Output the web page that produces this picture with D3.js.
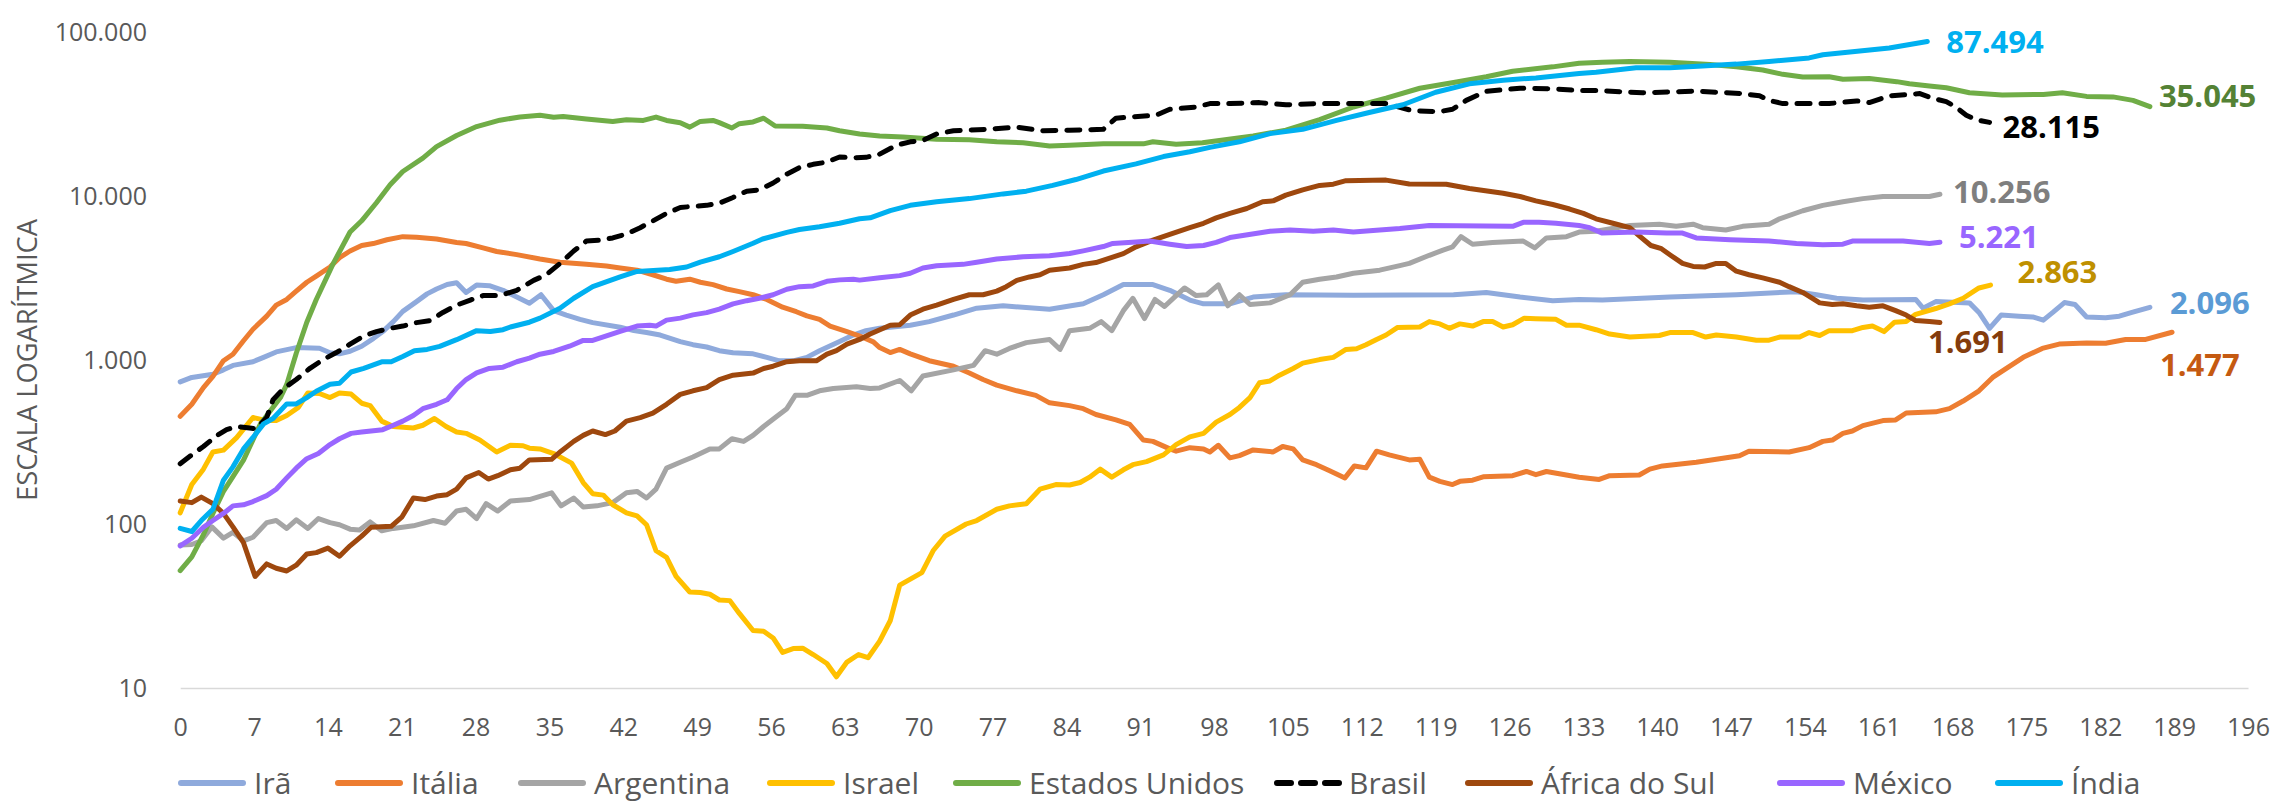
<!DOCTYPE html>
<html><head><meta charset="utf-8">
<script src="https://cdn.jsdelivr.net/npm/d3@7"></script>
<style>
html,body{margin:0;padding:0;background:#fff;}
svg{display:block;}
</style></head>
<body>
<svg id="chart" width="2279" height="803"></svg>
<script>
// ---------- DATA (day, value) ----------
const xTicks = d3.range(0, 197, 7);
const yTicks = [10, 100, 1000, 10000, 100000];
const seriesNames = ["Irã","Itália","Argentina","Israel","Estados Unidos","Brasil","África do Sul","México","Índia"];

const ira = [[0,735],[1.1,783],[3.1,818],[4.1,871],[5,927],[6.9,976],[7.9,1038],[9.1,1120],[11,1190],[13.2,1180],[14.2,1107],[15.1,1090],[16.1,1130],[17.2,1213],[18.3,1350],[19.3,1510],[20.2,1715],[21.1,1980],[22.4,2270],[23.4,2530],[24.3,2710],[25.3,2885],[26.2,2960],[27.1,2580],[28.1,2870],[29.3,2840],[30.6,2660],[31.9,2420],[33.1,2220],[34.2,2500],[35.4,2000],[36.6,1880],[37.9,1770],[39.1,1690],[41.7,1585],[43,1510],[44.2,1470],[45.5,1420],[47.4,1295],[48.6,1240],[49.9,1200],[51.1,1140],[52.4,1107],[54.3,1090],[55.6,1038],[56.8,988],[58.1,988],[59.4,1038],[60.6,1140],[62.5,1295],[63.8,1420],[65,1510],[66.3,1560],[69.2,1630],[71,1715],[73.3,1880],[75.5,2070],[78,2140],[82.4,2040],[85.6,2200],[87.5,2500],[89.4,2885],[92.2,2885],[93.8,2660],[95.7,2320],[97,2200],[99.5,2200],[101.7,2420],[104.8,2500],[111.2,2480],[120.7,2500],[123.8,2580],[127,2420],[130.1,2300],[132.6,2340],[134.8,2320],[141.2,2420],[147.5,2500],[153.2,2610],[155.1,2500],[157,2380],[159.5,2320],[164.5,2340],[165.2,2070],[166.4,2270],[169.6,2230],[170.5,1950],[171.5,1560],[172.6,1880],[174.3,1850],[175.6,1830],[176.6,1750],[177.5,1950],[178.6,2240],[179.6,2180],[180.7,1830],[182.5,1810],[183.8,1850],[185,1950],[186.7,2096]];

const italia = [[0,454],[1.1,537],[2.2,678],[3.1,794],[4.1,990],[5,1085],[6,1310],[6.9,1540],[8.2,1850],[9.1,2160],[10.1,2340],[11,2630],[12,2980],[12.9,3250],[14.2,3690],[15.1,4210],[16.1,4620],[17.2,4990],[18.3,5130],[19.6,5410],[21.1,5650],[22.4,5600],[24.3,5470],[26.2,5210],[27.1,5130],[28.7,4830],[30,4590],[31.9,4390],[34.1,4130],[36,3950],[38.5,3830],[40.4,3740],[41.7,3640],[43.3,3530],[44.8,3310],[46.1,3110],[47,3020],[48.3,3110],[49.3,2980],[50.5,2880],[51.8,2710],[53,2610],[54.3,2500],[55.6,2340],[57.1,2100],[58.4,1970],[59.4,1860],[60.6,1770],[61.6,1610],[63.2,1490],[64.4,1400],[65.7,1290],[66.3,1190],[67.3,1110],[68.2,1160],[69.2,1090],[71,990],[73.3,916],[74.8,834],[76.1,760],[77.4,703],[79.3,649],[81.1,609],[82.4,548],[84.3,527],[85.6,505],[86.8,465],[88.7,431],[90,405],[91.3,325],[92.2,319],[93.8,287],[94.4,278],[95.7,292],[97,287],[97.6,275],[98.4,302],[99.5,253],[100.4,261],[101.7,283],[103.6,275],[104.5,297],[105.5,287],[106.4,246],[107.7,230],[108.9,212],[110.4,191],[111.3,226],[112.4,220],[113.4,278],[114.6,264],[116.5,246],[117.5,248],[118.4,193],[119.4,182],[120.6,174],[121.3,182],[122.5,185],[123.5,194],[126.3,197],[127.6,209],[128.5,200],[129.5,209],[132.6,193],[134.5,187],[135.5,197],[138.3,199],[139.3,216],[140.5,226],[143.7,238],[145.6,248],[147.8,261],[148.7,278],[152.5,275],[154.4,292],[155.7,319],[156.6,325],[157.6,357],[158.5,369],[159.5,398],[161.4,427],[162.6,431],[163.6,475],[166.4,483],[167.7,505],[169,562],[170.5,649],[171.8,783],[173.1,888],[174.7,1038],[176.5,1176],[178.1,1250],[180.7,1270],[182.5,1265],[184.4,1335],[186.3,1335],[188.8,1477]];

const argentina = [[0,74.5],[1.1,75],[2,79],[3,96],[4.1,82],[5,89],[6,79],[6.9,83],[8.2,102],[9.1,105],[10.1,94],[11,106],[12.1,94],[13.1,108],[14.2,102],[15.1,99],[16.1,93],[17,92],[18,103],[19.1,91],[20.2,94],[22.1,97.5],[24,105],[25.1,101],[26.2,120],[27.1,123],[28.1,108],[29,133],[30.1,120],[31.3,138],[33.1,141],[35.2,155],[36.1,129],[37.3,144],[38.2,127],[39.5,129],[41,135],[42.3,155],[43.3,158],[44.2,144],[45.1,163],[46.1,219],[47.4,238],[48.6,256],[50.2,287],[51.1,287],[52.3,331],[53.4,319],[54.3,347],[55.3,393],[56.5,451],[57.5,505],[58.3,609],[59.4,609],[60.6,649],[61.9,670],[64.1,686],[65.4,670],[66.3,676],[68.2,750],[69.3,649],[70.4,798],[73.3,871],[75.2,927],[76.3,1140],[77.4,1085],[78.6,1176],[80.2,1276],[82.4,1333],[83.4,1160],[84.3,1510],[86.2,1560],[87.3,1715],[88.3,1510],[89.4,2000],[90.3,2376],[91.4,1790],[92.4,2340],[93.3,2120],[94.4,2470],[95.2,2750],[96.3,2470],[97.3,2500],[98.4,2870],[99.3,2140],[100.4,2500],[101.4,2180],[103.3,2230],[105.2,2500],[106.4,2980],[108,3110],[109.6,3210],[111.2,3380],[113.7,3530],[115.6,3760],[116.5,3880],[118.4,4350],[119.7,4680],[120.6,4900],[121.4,5650],[122.5,5080],[124.4,5210],[127.3,5310],[128.4,4830],[129.5,5550],[131.4,5650],[132.6,6030],[134.2,6090],[137.4,6610],[140.2,6730],[141.8,6530],[143.4,6730],[144.3,6410],[146.5,6210],[148.1,6530],[150.6,6730],[151.6,7260],[153.8,8130],[155.7,8770],[157.6,9230],[159.5,9640],[161.4,9940],[163.3,9940],[165.8,9940],[166.8,10256]];

const israel = [[0,117],[1.1,174],[2.2,216],[3.1,275],[4.1,282],[5.35,336],[6.9,446],[8.2,427],[9.1,427],[10.1,459],[11.2,514],[12.1,630],[13.2,625],[14.2,590],[15.1,630],[16.2,620],[17.2,545],[18,527],[19.1,424],[20.2,393],[22.1,385],[23,400],[24.1,440],[25.2,393],[26.2,364],[27.1,357],[28.4,325],[30,275],[31.3,302],[32.5,300],[33.1,290],[34.1,287],[35.4,269],[37.1,235],[38.2,179],[39.1,153],[40.1,150],[41,131],[42.3,117],[43.3,112],[44.2,99],[45.1,68.7],[46.1,62.5],[47,47.9],[48.3,38.5],[49.3,38.2],[50.2,37.3],[51.1,34.4],[52.1,34.1],[53,28.5],[54.3,22.4],[55.3,22.2],[56.2,20.2],[57.1,16.5],[58.1,17.4],[59,17.5],[60,16],[61.3,14.1],[62.2,11.7],[63.2,14.4],[64.3,16],[65.2,15.3],[66.3,19.3],[67.3,25.7],[68.2,42.4],[70.3,50.5],[71.4,69.2],[72.5,84.4],[74.5,100],[75.5,105],[77.4,123],[78.6,129],[80.2,133],[81.5,163],[83,174],[84.3,173],[85.3,179],[86.2,193],[87.2,216],[88.3,193],[89.4,214],[90.3,230],[91.6,240],[93.2,264],[94.4,305],[95.7,340],[97,357],[98.2,418],[99.5,465],[100.4,514],[101.4,590],[102.3,726],[103.3,745],[104.2,808],[105.5,888],[106.4,957],[108,1006],[109.3,1038],[110.5,1160],[111.5,1170],[112.4,1240],[113.4,1335],[114.3,1420],[115.4,1580],[117.5,1590],[118.4,1715],[119.4,1660],[120.3,1560],[121.3,1660],[122.5,1610],[123.5,1715],[124.4,1715],[125.4,1590],[126.3,1640],[127.4,1800],[128.5,1785],[130.4,1770],[131.4,1630],[132.6,1630],[134.2,1530],[135.5,1440],[137.4,1380],[140.2,1410],[141.2,1470],[143.4,1470],[144.6,1380],[145.6,1420],[147.5,1380],[149.4,1320],[150.6,1320],[151.6,1380],[153.5,1380],[154.4,1470],[155.4,1410],[156.3,1510],[158.5,1510],[159.5,1580],[160.4,1610],[161.5,1490],[162.5,1700],[163.6,1715],[164.5,1900],[166.4,2060],[167.7,2200],[169,2380],[170.5,2750],[171.6,2863]];

const estadosUnidos = [[0,52],[1.1,63],[2.2,86],[3.1,116],[4.1,158],[6,245],[7.6,407],[9.5,590],[10.1,710],[11,1100],[12,1700],[12.9,2340],[14.5,3870],[16.1,6030],[17.2,7060],[18.6,9100],[19.9,11700],[21.1,14100],[23,17000],[24.3,20000],[26.2,23400],[28.1,26500],[30.3,29000],[32.2,30300],[34.1,31100],[35.4,30200],[36.3,30500],[38.5,29500],[41,28500],[42.3,29200],[43.9,28900],[45.1,30300],[46.1,28900],[47.4,28000],[48.3,26300],[49.3,28500],[50.5,28900],[51.1,28000],[52.3,26000],[53,27600],[54.3,28300],[55.3,29800],[56.4,26700],[59,26600],[61.3,26000],[62.5,25000],[64.4,23900],[66.3,23200],[68.5,22900],[71.7,22200],[74.8,22000],[77.4,21400],[79.9,21100],[82.4,20200],[84.3,20400],[87.5,20800],[91.3,20800],[92.2,21400],[94.4,20700],[96.9,21100],[98.5,21800],[101.7,23200],[104.8,25200],[108,29200],[111.2,34900],[114.3,39500],[117.5,45400],[120.7,49200],[123.8,53400],[126.3,57600],[130.1,61300],[132.6,64500],[134.8,65300],[137.4,66100],[141.2,65300],[145,63300],[147.5,61300],[150,58700],[151.9,55200],[153.8,53100],[156.3,53400],[157.6,51500],[160.1,52100],[162.7,49800],[163.9,48300],[165.8,46800],[167.4,45700],[169.6,42600],[172.7,41300],[176.6,41600],[178.4,42600],[180.7,40500],[183.2,40200],[185.1,38300],[186.7,35045]];

const brasil = [[0,233],[1.1,264],[2.2,297],[3.5,347],[4.4,376],[5.35,393],[6.6,385],[7.2,380],[8.2,446],[8.8,573],[9.8,670],[11,760],[12.3,890],[13.6,1010],[14.8,1110],[16.1,1250],[17.4,1400],[18.6,1490],[19.9,1560],[21.1,1610],[22.4,1690],[23.7,1740],[24.9,1950],[26.2,2160],[27.5,2320],[28.7,2470],[30.3,2470],[31.9,2660],[33.5,3060],[34.7,3310],[36,3880],[37.3,4620],[38.5,5310],[39.8,5380],[41,5550],[42.3,5870],[43.6,6410],[44.8,7040],[46.1,7830],[47.4,8500],[48.6,8650],[49.9,8770],[51.1,9040],[52.4,9800],[53.7,10700],[54.9,10900],[56.2,12000],[57.5,13600],[58.7,14900],[60,15600],[61.3,16100],[62.5,17300],[63.8,17100],[65,17200],[66.3,18000],[67.9,20400],[69.2,21400],[70.4,21800],[71.7,23900],[73.3,25000],[76.4,25500],[79.3,26300],[81.8,25000],[84.3,25200],[87.5,25500],[88.7,29800],[90,30300],[92.5,31100],[93.8,33800],[96.3,34900],[97.6,36600],[99.5,36600],[102.3,37100],[104.8,36000],[108,36600],[114.3,36600],[116.8,33100],[119.4,32700],[120.6,33800],[121.9,38300],[123.8,43500],[127,45400],[130.1,45000],[132.6,44000],[134.2,44000],[138.6,42600],[143.7,43600],[148.1,42100],[149.7,40800],[150.6,38300],[151.9,36600],[156.3,36600],[158.9,38000],[160.1,37100],[161.1,39000],[162,40800],[164.9,42100],[166.1,39500],[167.4,37600],[168.3,34900],[169.3,31100],[170.2,29200],[171.5,28115]];

const africaDoSul = [[0,138],[1.1,135],[2,146],[3.1,133],[4.1,116],[5,96],[6,76.9],[7.1,47.9],[8.2,57.1],[9.1,53.7],[10.1,51.7],[11,56.1],[12,65.7],[12.9,66.9],[14,71.3],[15.1,63.6],[16.1,73.6],[17.2,84.4],[18.1,95.6],[20,96.8],[21,110],[22.1,144],[23.2,141],[24.3,148],[25.3,151],[26.2,163],[27.1,191],[28.3,206],[29.2,188],[30.1,197],[31.3,214],[32.2,219],[33.1,246],[35.2,248],[36.1,278],[37.3,319],[38.2,347],[39.1,369],[40.3,351],[41.2,369],[42.3,424],[43.6,445],[44.8,474],[46.1,537],[47.4,617],[48.6,649],[49.9,678],[51.1,760],[52.4,808],[54.3,832],[55.3,888],[56.2,916],[57.5,976],[58.7,988],[60.3,988],[61.3,1085],[62.2,1140],[63.2,1250],[64.4,1335],[65.4,1440],[67.3,1630],[68.2,1640],[69.2,1880],[70.4,2040],[71.7,2160],[73.3,2340],[74.8,2500],[76.1,2500],[77.4,2630],[78.3,2800],[79.3,3060],[80.5,3210],[81.5,3310],[82.4,3530],[84.3,3640],[85.6,3830],[86.8,3930],[88.1,4180],[89.4,4450],[90.6,4900],[92.2,5380],[93.8,5830],[95.7,6410],[97,6820],[98.2,7350],[99.5,7830],[101.1,8390],[102.6,9230],[103.6,9340],[104.8,10120],[106.4,10900],[108,11600],[109.3,11800],[110.5,12400],[114.3,12500],[116.5,11850],[120,11800],[122.2,11100],[125.4,10400],[127,9930],[128.5,9340],[130.1,8870],[131.7,8330],[133,7830],[134.2,7260],[135.8,6820],[137.4,6410],[138.3,5720],[139.4,4990],[140.4,4770],[141.3,4340],[142.4,3880],[143.4,3720],[144.5,3690],[145.6,3880],[146.5,3880],[147.5,3480],[148.7,3310],[150,3170],[151.6,2980],[152.5,2800],[153.8,2580],[155.4,2230],[156.6,2180],[157.6,2200],[158.9,2140],[160.1,2100],[161.4,2140],[162.6,2000],[163.6,1880],[164.5,1740],[165.8,1715],[166.8,1691]];

const mexico = [[0,73.6],[1.1,81.9],[2.2,95.6],[3.1,105],[4.1,116],[5,129],[6,131],[6.9,137],[8.2,149],[9.1,163],[10.1,191],[11,219],[12,250],[13.1,269],[14.2,305],[15.1,331],[16.2,357],[17.2,364],[19.2,376],[20.2,400],[21.1,424],[22.1,459],[23,505],[24.3,537],[25.3,572],[26.2,670],[27.1,760],[28.1,834],[29.3,888],[30.6,904],[31.9,976],[33.1,1026],[34.1,1085],[35.4,1127],[36.9,1214],[38.2,1317],[39.1,1317],[40.4,1403],[41.7,1493],[43.3,1610],[44.5,1630],[45.1,1610],[46.1,1750],[47.4,1800],[48.6,1885],[49.9,1945],[51.1,2045],[52.4,2200],[53.7,2300],[54.9,2380],[56.2,2500],[57.5,2700],[58.7,2800],[60,2830],[61.3,3020],[62.5,3080],[63.8,3110],[64.4,3070],[66.3,3170],[68.2,3270],[69.2,3380],[70.4,3640],[71.7,3760],[74.2,3830],[75.5,3950],[77.4,4130],[79.9,4260],[82.4,4320],[84.3,4460],[85.6,4630],[87.5,4920],[88.4,5140],[90.6,5240],[91.9,5310],[93.8,5080],[95.4,4920],[97,4990],[98.2,5210],[99.5,5580],[103.3,6100],[105.2,6210],[107.4,6100],[109.3,6210],[111.2,6030],[113.7,6210],[115.6,6330],[118.4,6610],[126.3,6530],[127.3,6910],[128.8,6910],[130.4,6820],[132.6,6610],[133.6,6410],[134.8,5940],[138,6030],[140.9,5940],[142.4,5940],[143.7,5550],[146.9,5410],[150.6,5310],[153.2,5140],[155.7,5050],[157.6,5080],[158.5,5310],[163.3,5310],[165.8,5140],[166.8,5221]];

const india = [[0,94],[1.1,90],[2,105],[3.1,123],[4.1,185],[5,223],[6,287],[6.9,337],[7.9,408],[8.8,440],[10.1,540],[11,540],[12,590],[12.9,645],[14.2,712],[15.1,722],[16.2,845],[17.4,890],[19.1,975],[20,975],[21.1,1050],[22.2,1140],[23.4,1160],[24.6,1210],[26.2,1330],[28.1,1510],[29.4,1490],[30.6,1530],[31.3,1590],[33.1,1700],[34.1,1800],[36,2070],[37.3,2380],[39.1,2800],[41.7,3210],[43.3,3470],[46.4,3560],[48,3690],[49.3,3950],[51.1,4260],[52.4,4590],[54.3,5150],[55.2,5470],[57.5,6000],[58.7,6250],[60.6,6500],[62.5,6820],[64.4,7260],[65.4,7360],[67.3,8140],[69.2,8770],[71.7,9230],[74.8,9640],[78,10300],[80.2,10700],[82.7,11600],[84.9,12600],[87.5,14200],[90.6,15700],[93.2,17400],[95.7,18600],[97.6,19800],[100.4,21400],[103.3,24000],[106.4,25500],[109.6,28900],[112.7,32300],[115.9,36000],[119,42900],[122.2,48300],[125.4,50800],[128.5,52500],[132.6,55800],[134.2,56900],[138,60500],[141.2,60500],[144.3,62100],[147.5,63700],[150.6,66100],[154.4,69500],[155.7,72600],[158.5,75900],[162,79800],[165.6,87494]];

const seriesData = [ira, italia, argentina, israel, estadosUnidos, brasil, africaDoSul, mexico, india];

// ---------- STYLES ----------
const lineColors = ["#8FAADC","#ED7D31","#A5A5A5","#FFC000","#70AD47","#000000","#9E480E","#9966FF","#00B0F0"];
const labelColors = ["#5B9BD5","#C55A11","#7F7F7F","#BF9000","#548235","#000000","#843C0C","#9966FF","#00B0F0"];
const labelOffsets = [[20,-4],[-12,33],[13,-2],[27,-13],[9,-11],[13,5],[-12,20],[19,-5],[19,1]];
const legendX = [178,335,518,767,953,1273,1465,1777,1995];

const W = 2279, H = 803;
const svg = d3.select("#chart");
svg.append("rect").attr("width",W).attr("height",H).attr("fill","#fff");

const x = d3.scaleLinear().domain([0,196]).range([180.2, 2248]);
const y = d3.scaleLog().domain([10,100000]).range([688, 32]);

const ptBR = d3.formatLocale({decimal:",", thousands:".", grouping:[3], currency:["R$",""]});
const fmt = ptBR.format(",d");
const FONT = "'Open Sans', 'Noto Sans', sans-serif";
const TXT = "#595959";

// X axis
const gx = svg.append("g").attr("transform","translate(0,688)")
  .call(d3.axisBottom(x).tickValues(xTicks).tickSize(0).tickFormat(d3.format("d")));
gx.select(".domain").attr("stroke","#D9D9D9").attr("stroke-width",1.6);
gx.selectAll("text").attr("y",39).attr("dy","0.35em")
  .attr("font-family",FONT).attr("font-size",25).attr("fill",TXT);

// Y axis
const gy = svg.append("g").attr("transform","translate(147,0)")
  .call(d3.axisLeft(y).tickValues(yTicks).tickSize(0).tickPadding(0).tickFormat(fmt));
gy.select(".domain").remove();
gy.selectAll("text").attr("font-family",FONT).attr("font-size",25).attr("fill",TXT).attr("dy","0.35em");

// Y title
svg.append("text").attr("transform","translate(27,360) rotate(-90)")
  .attr("text-anchor","middle").attr("dy","0.35em")
  .attr("font-family",FONT).attr("font-size",28).attr("fill",TXT)
  .attr("textLength",282).attr("lengthAdjust","spacingAndGlyphs")
  .text("ESCALA LOGARÍTMICA");

// Lines
const line = d3.line().x(d => x(d[0])).y(d => y(d[1]));
const LW = 5;
seriesData.forEach((data, i) => {
  const p = svg.append("path").datum(data)
    .attr("d", line).attr("fill","none")
    .attr("stroke", lineColors[i]).attr("stroke-width", LW)
    .attr("stroke-linejoin","round").attr("stroke-linecap","round");
  if (seriesNames[i] === "Brasil") p.attr("stroke-dasharray","13,11");
});

// End labels
seriesData.forEach((data, i) => {
  const last = data[data.length-1];
  svg.append("text")
    .attr("x", x(last[0]) + labelOffsets[i][0])
    .attr("y", y(last[1]) + labelOffsets[i][1])
    .attr("dy","0.35em")
    .attr("font-family",FONT).attr("font-weight",700).attr("font-size",31)
    .attr("fill", labelColors[i])
    .text(fmt(last[1]));
});

// Legend
const lg = svg.append("g").attr("transform","translate(0,783)");
seriesNames.forEach((name, i) => {
  const l = lg.append("line").attr("x1",legendX[i]+3).attr("x2",legendX[i]+65)
    .attr("y1",0).attr("y2",0)
    .attr("stroke",lineColors[i]).attr("stroke-width",LW+1).attr("stroke-linecap","round");
  if (name === "Brasil") l.attr("stroke-dasharray","14,10").attr("x1",legendX[i]+4).attr("x2",legendX[i]+70);
  lg.append("text").attr("x",legendX[i]+76).attr("y",0).attr("dy","0.35em")
    .attr("font-family",FONT).attr("font-size",30).attr("fill",TXT).text(name);
});
</script>
</body></html>
